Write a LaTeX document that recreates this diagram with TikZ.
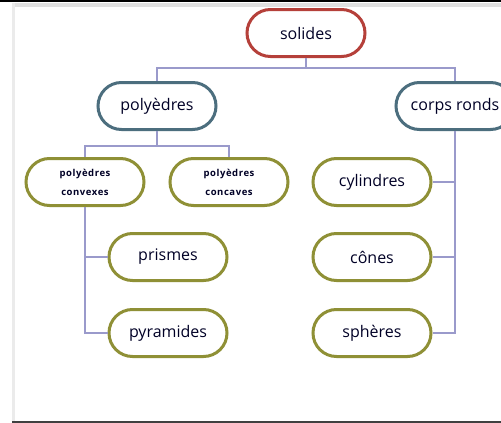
\documentclass[tikz,border=0pt]{standalone}
\usepackage{fontspec}
\setmainfont{Open Sans}
\usepackage{xcolor}
\usetikzlibrary{shapes.misc}
\definecolor{redline}{HTML}{B5403A}
\definecolor{blueline}{HTML}{4C6E7E}
\definecolor{oliveline}{HTML}{8F9036}
\definecolor{linkline}{HTML}{9A9ACB}
\tikzset{
  box/.style={rounded rectangle,draw,line width=3pt,fill=white,minimum width=122pt,minimum height=47pt,inner sep=2pt,font=\fontsize{16}{18}\selectfont,text=black!85!blue},
  topbox/.style={box,draw=redline},
  midbox/.style={box,draw=blueline},
  leafbox/.style={box,draw=oliveline},
  smallbox/.style={leafbox,font=\fontsize{9.5}{19}\selectfont\bfseries\addfontfeatures{LetterSpace=6},align=center},
  link/.style={draw=linkline,line width=1.5pt}
}

\begin{document}
\begin{tikzpicture}[x=1pt,y=-1pt]

  \useasboundingbox (0,0) rectangle (501,423);
  \clip (0,0) rectangle (501,423);
  \fill[white] (0,0) rectangle (501,423);

  \fill[black!12] (12,3) rectangle (501,7);
  \fill[black!8] (12,3) rectangle (15,421);
  \draw[black,line width=2pt] (0,1) -- (501,1);
  \draw[black!75,line width=2pt] (12,422) -- (501,422);

  \node[topbox] (solides) at (306,33) {solides};
  \node[midbox] (polyedres) at (157,106) {polyèdres};
  \node[midbox] (corpsronds) at (455,106) {corps ronds};
  \node[smallbox] (convexes) at (85,182) {polyèdres\\convexes};
  \node[smallbox] (concaves) at (229,182) {polyèdres\\concaves};
  \node[leafbox] (cylindres) at (372,182) {cylindres};
  \node[leafbox] (prismes) at (168,257) {prismes};
  \node[leafbox] (cones) at (372,257) {cônes};
  \node[leafbox] (pyramides) at (168,333) {pyramides};
  \node[leafbox] (spheres) at (372,333) {sphères};

  \draw[link] (solides.south) -- ++(0,10) -| (polyedres.north);
  \draw[link] (solides.south) -- ++(0,10) -| (corpsronds.north);
  \draw[link] (polyedres.south) -- ++(0,15) -| (convexes.north);
  \draw[link] (polyedres.south) -- ++(0,15) -| (concaves.north);
  \draw[link] (convexes.south) |- (prismes.west);
  \draw[link] (convexes.south) |- (pyramides.west);
  \draw[link] (corpsronds.south) |- (cylindres.east);
  \draw[link] (corpsronds.south) |- (cones.east);
  \draw[link] (corpsronds.south) |- (spheres.east);

\end{tikzpicture}
\end{document}
